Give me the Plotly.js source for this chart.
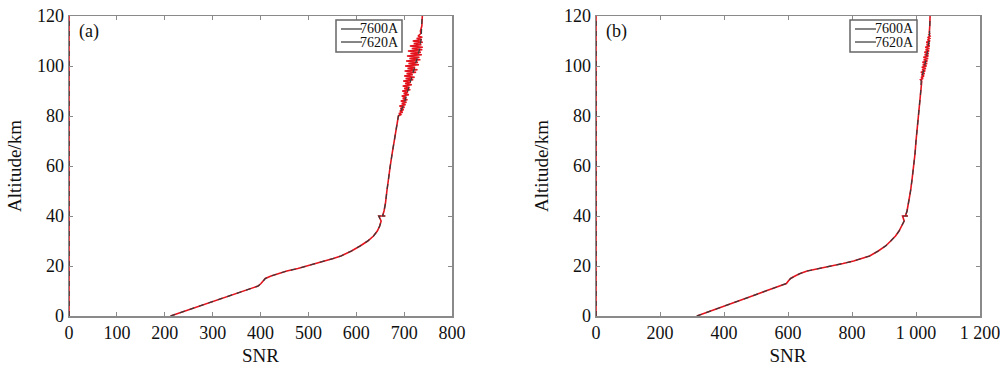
<!DOCTYPE html>
<html>
<head>
<meta charset="utf-8">
<script src="https://cdn.plot.ly/plotly-3.0.1.min.js"></script>
<style>html,body{margin:0;padding:0;background:#fff;}#chart{width:1000px;height:368px;}</style>
</head>
<body>
<div id="chart"></div>
<script>
// ---------- Panel (a) ----------
const altA = [0,2,4,6,8,10,12,13,14,15,16,17,18,19,20,21,22,23,24,26,28,30,32,34,36,38,40,40,40,42,45,50,55,60,65,70,75,
  80,80.5,81,81.5,82,82.5,83,83.5,84,84.5,
  85,85.5,86,86.5,87,87.5,88,88.5,89,89.5,
  90,90.5,91,91.5,92,92.5,93,93.5,94,94.5,
  95,95.5,96,96.5,97,97.5,98,98.5,99,99.5,
  100,100.5,101,101.5,102,102.5,103,103.5,104,104.5,
  105,105.5,106,106.5,107,107.5,108,108.5,109,109.5,
  110,110.5,111,111.5,112,
  113,114,116,118,120];
const snrA7620 = [212,242,272,302,333,365,395,401,405,410,422,438,455,478,498,518,535,552,568,590,608,624,636,644,649,652,647,661,655,658,661,664,667,671,675,679,684,
  688,693,689,697,691,699,692,701,690,703,
  695,705,693,707,697,704,695,710,699,708,
  696,713,700,711,697,716,702,714,698,719,
  703,722,700,718,705,725,701,728,707,723,
  702,731,709,729,704,734,711,732,706,737,
  713,735,708,738,716,739,712,736,720,739,
  718,737,726,738,729,
  735,734,737,737,738];
const snrA7600 = [212,242,272,302,333,365,395,401,405,410,422,438,455,478,498,518,535,552,568,590,608,624,636,644,649,652,647,661,655,658,661,664,667,671,675,679,684,
  688,689,691,692,694,694,696,697,698,699,
  700,701,702,702,703,704,705,705,706,707,
  708,708,709,710,711,711,712,713,714,714,
  715,716,717,717,718,719,720,720,721,722,
  723,723,724,725,726,726,727,728,729,729,
  730,731,731,732,732,733,733,734,734,735,
  735,735,736,736,736,
  736,737,737,737,738];

// ---------- Panel (b) ----------
const altB = [0,2,4,6,8,10,12,13,14,15,16,17,18,19,20,21,22,23,24,26,28,30,32,34,36,38,40,40,40,42,45,50,55,60,65,70,75,
  80,85,90,
  94,94.5,95,95.5,96,96.5,97,97.5,98,98.5,
  99,99.5,100,100.5,101,101.5,102,102.5,103,103.5,
  104,104.5,105,105.5,106,106.5,107,107.5,108,108.5,
  109,109.5,110,110.5,111,111.5,112,112.5,113,113.5,
  114,116,118,120];
const snrB7620 = [315,360,400,445,488,530,578,595,601,608,622,638,660,700,735,772,805,832,855,882,905,921,936,947,956,963,958,975,967,972,977,983,988,993,997,1000,1004,
  1007,1011,1015,
  1018,1014,1022,1016,1025,1017,1027,1015,1029,1019,
  1031,1018,1033,1021,1035,1020,1036,1024,1038,1023,
  1039,1027,1040,1026,1041,1030,1042,1029,1043,1033,
  1043,1032,1044,1036,1043,1038,1044,1040,1043,1041,
  1042,1043,1044,1044];
const snrB7600 = [315,360,400,445,488,530,578,595,601,608,622,638,660,700,735,772,805,832,855,882,905,921,936,947,956,963,958,975,967,972,977,983,988,993,997,1000,1004,
  1007,1011,1015,
  1016,1017,1018,1019,1020,1021,1022,1022,1023,1024,
  1025,1026,1027,1028,1029,1029,1030,1031,1032,1033,
  1034,1034,1035,1036,1036,1037,1038,1038,1039,1039,
  1040,1040,1041,1041,1042,1042,1042,1043,1043,1043,
  1043,1043,1043,1044];

// zero-SNR vertical segment present in both panels
const zeroAlt = [0,120];
const zeroSnr = [0,0];

const seriesNames = ['7600A','7620A'];
const panelLabels = ['(a)','(b)'];
const xTicksA = [0,100,200,300,400,500,600,700,800];
const xTicksB = [0,200,400,600,800,1000,1200];
const yTicks = [0,20,40,60,80,100,120];

const RED = '#e3141e', DARK = '#3a3a3a';
const serif = 'Liberation Serif, Times New Roman, serif';

function panel(xa, ya, alt, s7600, s7620) {
  return [
    {x: zeroSnr, y: zeroAlt, xaxis: xa, yaxis: ya, mode: 'lines', line: {color: RED, width: 1.6}, showlegend: false, hoverinfo: 'skip'},
    {x: zeroSnr, y: zeroAlt, xaxis: xa, yaxis: ya, mode: 'lines', line: {color: DARK, width: 1.4, dash: '5px,5px'}, showlegend: false, hoverinfo: 'skip'},
    {x: s7620, y: alt, xaxis: xa, yaxis: ya, mode: 'lines', name: seriesNames[1], line: {color: RED, width: 1.6}, showlegend: false},
    {x: s7600, y: alt, xaxis: xa, yaxis: ya, mode: 'lines', name: seriesNames[0], line: {color: DARK, width: 1.2, dash: '5px,5px'}, showlegend: false}
  ];
}

const data = [].concat(
  panel('x', 'y', altA, snrA7600, snrA7620),
  panel('x2', 'y2', altB, snrB7600, snrB7620)
);

const axBase = {
  showline: true, linecolor: '#8a8a8a', linewidth: 1.5, mirror: 'ticks',
  ticks: 'inside', ticklen: 4, tickcolor: '#8a8a8a', tickwidth: 1,
  showgrid: false, zeroline: false, ticklabeloverflow: 'allow',
  tickfont: {family: serif, size: 18, color: '#111'}
};

// MATLAB-style legend boxes (paper coordinates)
function legendDecor(x0, x1) {
  const shapes = [
    {type: 'rect', xref: 'paper', yref: 'paper', x0: x0, x1: x1, y0: 0.88, y1: 0.9867, line: {color: '#666', width: 1.5}, fillcolor: '#fff', layer: 'above'},
    {type: 'line', xref: 'paper', yref: 'paper', x0: x0 + 0.005, x1: x0 + 0.026, y0: 0.9567, y1: 0.9567, line: {color: '#333', width: 1.2}, layer: 'above'},
    {type: 'line', xref: 'paper', yref: 'paper', x0: x0 + 0.005, x1: x0 + 0.026, y0: 0.9133, y1: 0.9133, line: {color: '#333', width: 1.2}, layer: 'above'}
  ];
  const anns = [
    {xref: 'paper', yref: 'paper', x: x1 - 0.001, y: 0.9567, xanchor: 'right', yanchor: 'middle', text: seriesNames[0], showarrow: false, font: {family: serif, size: 14, color: '#111'}},
    {xref: 'paper', yref: 'paper', x: x1 - 0.001, y: 0.9133, xanchor: 'right', yanchor: 'middle', text: seriesNames[1], showarrow: false, font: {family: serif, size: 14, color: '#111'}}
  ];
  return {shapes: shapes, anns: anns};
}
const legA = legendDecor(0.336, 0.402);
const legB = legendDecor(0.850, 0.917);

const layout = {
  width: 1000, height: 368,
  margin: {l: 0, r: 0, t: 16, b: 52},
  paper_bgcolor: '#fff', plot_bgcolor: '#fff',
  separators: '. ',
  showlegend: false,
  xaxis: Object.assign({}, axBase, {domain: [0.069, 0.452], range: [0, 800], tickvals: xTicksA, anchor: 'y',
    title: {text: 'SNR', font: {family: serif, size: 19, color: '#111'}, standoff: 6}}),
  yaxis: Object.assign({}, axBase, {domain: [0, 1], range: [0, 120], tickvals: yTicks, anchor: 'x',
    title: {text: 'Altitude/km', font: {family: serif, size: 19, color: '#111'}, standoff: 10}}),
  xaxis2: Object.assign({}, axBase, {domain: [0.596, 0.98], range: [0, 1200], tickvals: xTicksB, anchor: 'y2', separatethousands: true,
    title: {text: 'SNR', font: {family: serif, size: 19, color: '#111'}, standoff: 6}}),
  yaxis2: Object.assign({}, axBase, {domain: [0, 1], range: [0, 120], tickvals: yTicks, anchor: 'x2',
    title: {text: 'Altitude/km', font: {family: serif, size: 19, color: '#111'}, standoff: 10}}),
  shapes: legA.shapes.concat(legB.shapes),
  annotations: [
    {xref: 'x domain', yref: 'y domain', x: 0.02, y: 0.947, xanchor: 'left', yanchor: 'middle', text: panelLabels[0], showarrow: false, font: {family: serif, size: 18, color: '#111'}},
    {xref: 'x2 domain', yref: 'y2 domain', x: 0.02, y: 0.947, xanchor: 'left', yanchor: 'middle', text: panelLabels[1], showarrow: false, font: {family: serif, size: 18, color: '#111'}}
  ].concat(legA.anns, legB.anns)
};

Plotly.newPlot('chart', data, layout, {displayModeBar: false, staticPlot: true});
</script>
</body>
</html>
